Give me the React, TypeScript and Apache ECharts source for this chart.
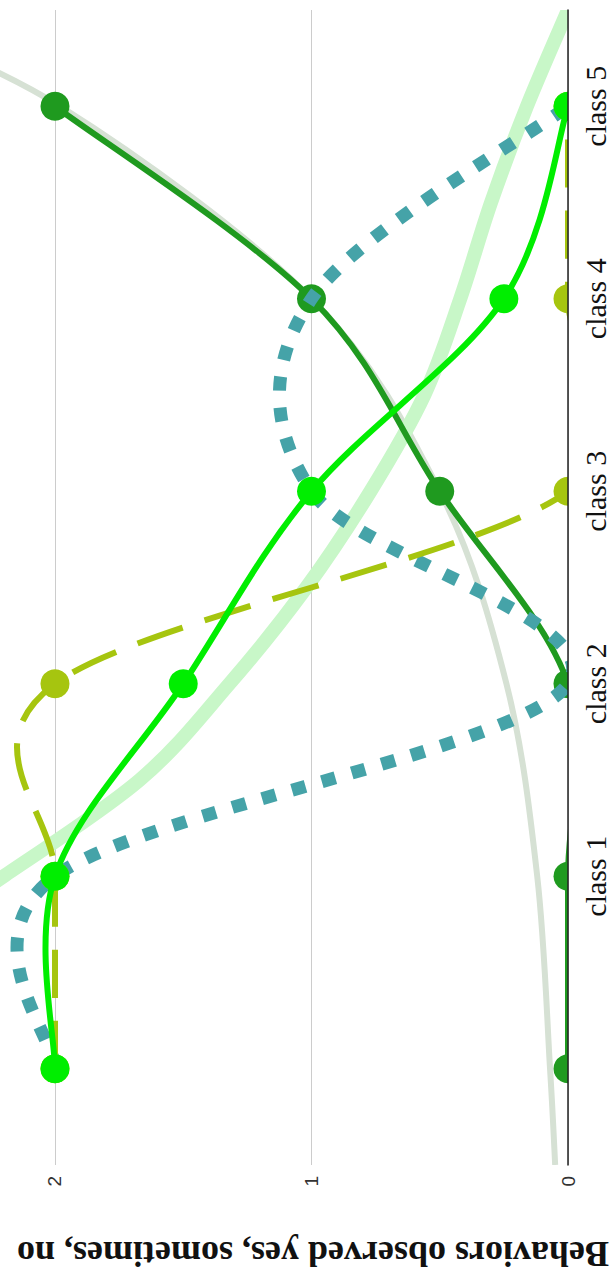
import React, { useEffect, useRef } from "react";
import * as echarts from "echarts";

// ---------- data ----------
const categories = ["", "class 1", "class 2", "class 3", "class 4", "class 5"];
const valueTicks = [0, 1, 2];
const darkGreenValues = [0, 0, 0, 0.5, 1, 2];
const limeValues = [2, 2, 1.5, 1, 0.25, 0];
const oliveValues = [2, 2, 2, 0, 0, 0];
const tealValues = [2, 2, 0, 1, 1, 0];
// trend curves: positions along the class axis (0 = first class) and values
const greyTrendPositions = [-0.5, 0, 1, 2, 3, 4, 5, 5.5];
const greyTrendValues = [0.05, 0.07, 0.12, 0.24, 0.5, 1.0, 1.98, 2.8];
const lightTrendPositions = [0.9, 1, 1.5, 2, 2.5, 3, 3.5, 4, 4.5, 5, 5.5];
const lightTrendValues = [2.32, 2.2, 1.67, 1.32, 1.02, 0.77, 0.56, 0.42, 0.3, 0.16, 0];
const axisTitle = "Behaviors observed yes, sometimes, no";

const VALUE_MAX = 2.2144;

function catmullRom(pts: number[][]): string {
  if (pts.length < 2) return "";
  let d = `M${pts[0][0]},${pts[0][1]}`;
  for (let i = 0; i < pts.length - 1; i++) {
    const p0 = pts[Math.max(i - 1, 0)];
    const p1 = pts[i];
    const p2 = pts[i + 1];
    const p3 = pts[Math.min(i + 2, pts.length - 1)];
    const c1x = p1[0] + (p2[0] - p0[0]) / 6;
    const c1y = p1[1] + (p2[1] - p0[1]) / 6;
    const c2x = p2[0] - (p3[0] - p1[0]) / 6;
    const c2y = p2[1] - (p3[1] - p1[1]) / 6;
    d += ` C${c1x},${c1y} ${c2x},${c2y} ${p2[0]},${p2[1]}`;
  }
  return d;
}

type SplineStyle = {
  color: string;
  width: number;
  dash?: number[];
  marker?: number;
};

function splineSeries(name: string, pairs: number[][], yAxisIndex: number, s: SplineStyle) {
  return {
    type: "custom",
    name,
    xAxisIndex: 0,
    yAxisIndex,
    clip: true,
    silent: true,
    data: pairs,
    encode: { x: 0, y: 1 },
    renderItem: (params: any, api: any) => {
      if (params.dataIndex !== 0) return null;
      const pts = pairs.map((p) => api.coord(p));
      const children: any[] = [
        {
          type: "path",
          shape: { pathData: catmullRom(pts) },
          style: {
            fill: "none",
            stroke: s.color,
            lineWidth: s.width,
            lineDash: s.dash || null,
            lineCap: "butt",
            lineJoin: "round",
          },
        },
      ];
      if (s.marker) {
        pts.forEach((pt: number[]) =>
          children.push({
            type: "circle",
            shape: { cx: pt[0], cy: pt[1], r: s.marker },
            style: { fill: s.color },
          })
        );
      }
      return { type: "group", children };
    },
  };
}

const catPairs = (vals: number[]) => vals.map((v, i) => [v, i]);
const trendPairs = (pos: number[], vals: number[]) => pos.map((p, i) => [vals[i], p]);

export default function App() {
  const ref = useRef<HTMLDivElement>(null);
  useEffect(() => {
    document.body.style.margin = "0";
    const chart = echarts.init(ref.current!, null, { renderer: "svg" });
    const option: any = {
      animation: false,
      backgroundColor: "#ffffff",
      grid: {
        left: 0,
        right: 47,
        top: 10,
        bottom: 108,
        containLabel: false,
        outerBoundsMode: "none",
      },
      xAxis: [
        {
          type: "value",
          inverse: true,
          min: 0,
          max: VALUE_MAX,
          interval: 1,
          position: "bottom",
          axisLine: { show: false },
          axisTick: { show: false },
          splitLine: { show: true, showMaxLine: false, lineStyle: { color: "#cccccc", width: 1 } },
          axisLabel: {
            rotate: 90,
            margin: 11,
            fontSize: 19,
            fontFamily: "'Liberation Sans', Arial, sans-serif",
            color: "#333333",
            showMaxLabel: false,
            formatter: (v: number) => (valueTicks.includes(v) ? String(v) : ""),
          },
        },
      ],
      yAxis: [
        {
          type: "category",
          data: categories,
          position: "right",
          z: 10,
          axisLine: { show: true, lineStyle: { color: "#222222", width: 1.5 } },
          axisTick: { show: false },
          splitLine: { show: false },
          axisLabel: {
            rotate: 90,
            margin: 12,
            fontSize: 30,
            fontFamily: "'Liberation Serif', 'Times New Roman', serif",
            color: "#111111",
            interval: 0,
          },
        },
        {
          type: "value",
          min: -0.5,
          max: 5.5,
          show: false,
          position: "left",
        },
      ],
      graphic: [
        {
          type: "text",
          x: 313,
          y: 1254,
          rotation: Math.PI,
          style: {
            text: axisTitle,
            fontSize: 36,
            fontWeight: "bold",
            fontFamily: "'Liberation Serif', 'Times New Roman', serif",
            fill: "#111111",
            align: "center",
            verticalAlign: "middle",
          },
        },
      ],
      series: [
        splineSeries("grey trend", trendPairs(greyTrendPositions, greyTrendValues), 1, {
          color: "#d6e1d4",
          width: 6,
        }),
        splineSeries("light trend", trendPairs(lightTrendPositions, lightTrendValues), 1, {
          color: "#c8f7c8",
          width: 14,
        }),
        splineSeries("dark green", catPairs(darkGreenValues), 0, {
          color: "#1f9a1f",
          width: 6,
          marker: 14.5,
        }),
        splineSeries("teal", catPairs(tealValues), 0, {
          color: "#45a3a8",
          width: 13,
          dash: [14, 17],
        }),
        splineSeries("olive", catPairs(oliveValues), 0, {
          color: "#a6c50f",
          width: 6,
          dash: [48, 23],
          marker: 14.5,
        }),
        splineSeries("lime", catPairs(limeValues), 0, {
          color: "#00ee00",
          width: 6,
          marker: 14.5,
        }),
      ],
    };
    chart.setOption(option);
    return () => chart.dispose();
  }, []);
  return (
    <div
      ref={ref}
      style={{ width: 615, height: 1273, position: "absolute", left: 0, top: 0 }}
    />
  );
}
